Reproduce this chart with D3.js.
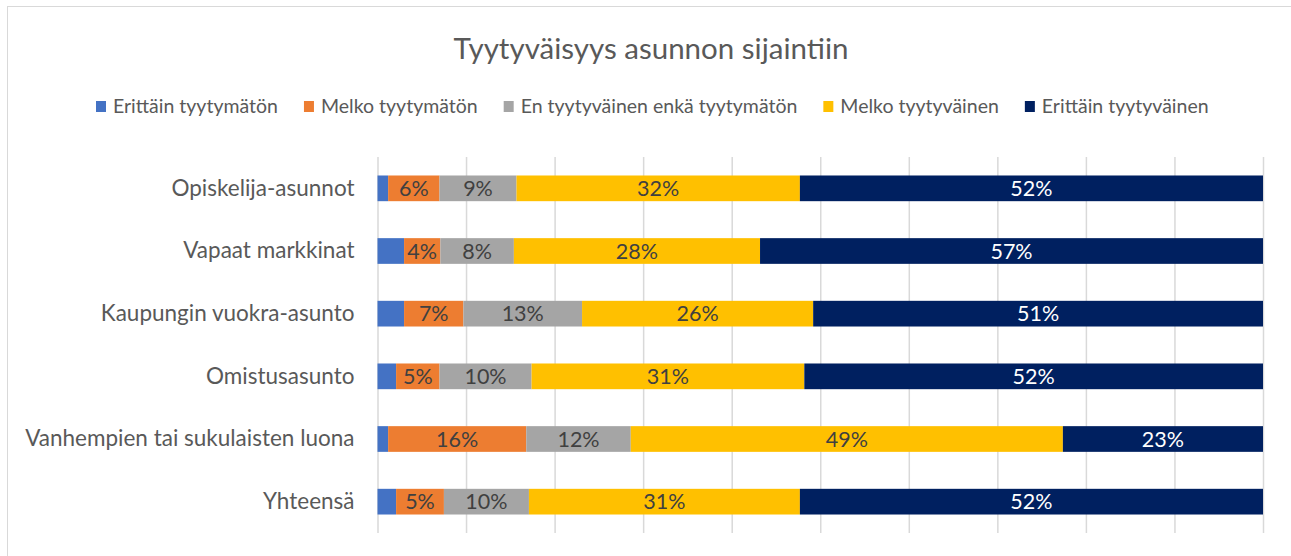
<!DOCTYPE html>
<html>
<head>
<meta charset="utf-8">
<script src="https://cdn.jsdelivr.net/npm/d3@7"></script>
<style>
  body { margin: 0; background: #fff; }
  svg { display: block; font-family: "Lato", sans-serif; }
</style>
</head>
<body>
<svg id="chart"></svg>
<script>
// categories, top to bottom
const categories = [
  "Opiskelija-asunnot",
  "Vapaat markkinat",
  "Kaupungin vuokra-asunto",
  "Omistusasunto",
  "Vanhempien tai sukulaisten luona",
  "Yhteensä"
];

const seriesNames = [
  "Erittäin tyytymätön",
  "Melko tyytymätön",
  "En tyytyväinen enkä tyytymätön",
  "Melko tyytyväinen",
  "Erittäin tyytyväinen"
];

// shares in percent, one value per category
const erittainTyytymaton = [1.2, 3.0, 3.0, 2.1, 1.2, 2.1];
const melkoTyytymaton    = [5.8, 4.1, 6.7, 4.9, 15.6, 5.4];
const neutraali          = [8.7, 8.3, 13.4, 10.4, 11.8, 9.6];
const melkoTyytyvainen   = [32.0, 27.8, 26.1, 30.8, 48.8, 30.6];
const erittainTyytyvainen = [52.3, 56.8, 50.8, 51.8, 22.6, 52.3];

const gridTicks = [0, 0.1, 0.2, 0.3, 0.4, 0.5, 0.6, 0.7, 0.8, 0.9, 1];

const colors = ["#4472C4", "#ED7D31", "#A5A5A5", "#FFC000", "#002060"];

class StackedBars {

  constructor(_config) {
    this.config = {
      parentElement: _config.parentElement,
      containerWidth: _config.containerWidth || 1291,
      containerHeight: _config.containerHeight || 556,
      margin: _config.margin || { top: 157, right: 28, bottom: 23, left: 377.5 }
    };
    this.initVis();
  }

  initVis() {
    let vis = this;

    vis.svg = d3.select(vis.config.parentElement)
        .attr("width", vis.config.containerWidth)
        .attr("height", vis.config.containerHeight);

    // chart frame (right and bottom edge fall outside the picture)
    vis.svg.append("rect")
        .attr("x", 7.5).attr("y", 6.5)
        .attr("width", 1300).attr("height", 600)
        .attr("fill", "none")
        .attr("stroke", "#d9d9d9")
        .attr("stroke-width", 1);

    vis.width = vis.config.containerWidth - vis.config.margin.left - vis.config.margin.right;
    vis.height = vis.config.containerHeight - vis.config.margin.top - vis.config.margin.bottom;

    vis.chart = vis.svg.append("g")
        .attr("transform", `translate(${vis.config.margin.left},${vis.config.margin.top})`);

    vis.gridG = vis.chart.append("g")
        .attr("transform", `translate(0,${vis.height})`);
    vis.yAxisG = vis.chart.append("g");
    vis.barsG = vis.chart.append("g");
    vis.labelsG = vis.chart.append("g");

    vis.svg.append("text")
        .attr("x", 651)
        .attr("y", 59)
        .attr("text-anchor", "middle")
        .attr("fill", "#595959")
        .style("font-size", "29.5px")
        .text("Tyytyväisyys asunnon sijaintiin");

    vis.legendG = vis.svg.append("g");
  }

  update() {
    let vis = this;

    let all = [erittainTyytymaton, melkoTyytymaton, neutraali, melkoTyytyvainen, erittainTyytyvainen];
    vis.rows = categories.map((c, i) => {
      let row = { category: c };
      seriesNames.forEach((s, j) => { row[s] = all[j][i] / 100; });
      return row;
    });

    vis.stacked = d3.stack().keys(seriesNames)(vis.rows);

    vis.xScale = d3.scaleLinear()
      .domain([0, 1])
      .range([0, vis.width]);

    vis.yScale = d3.scaleBand()
      .domain(categories)
      .range([0, vis.height])
      .paddingInner(0.59)
      .paddingOuter(0.295);

    vis.colorScale = d3.scaleOrdinal()
      .domain(seriesNames)
      .range(colors);

    vis.render();
  }

  render() {
    let vis = this;

    vis.gridG.call(d3.axisBottom(vis.xScale)
        .tickValues(gridTicks)
        .tickSize(-vis.height)
        .tickFormat(""));
    vis.gridG.select(".domain").remove();
    vis.gridG.selectAll("line")
        .attr("stroke", "#d9d9d9")
        .attr("stroke-width", 1.5);

    vis.yAxisG.call(d3.axisLeft(vis.yScale).tickSize(0).tickPadding(23));
    vis.yAxisG.select(".domain").remove();
    vis.yAxisG.selectAll("text")
        .style("font-size", "22.5px")
        .style("font-family", "Lato, sans-serif")
        .attr("fill", "#595959");

    let layer = vis.barsG.selectAll("g.layer")
        .data(vis.stacked)
      .join("g")
        .attr("class", "layer")
        .attr("fill", d => vis.colorScale(d.key));

    layer.selectAll("rect")
        .data(d => d)
      .join("rect")
        .attr("x", d => vis.xScale(d[0]))
        .attr("y", d => vis.yScale(d.data.category))
        .attr("width", d => vis.xScale(d[1]) - vis.xScale(d[0]))
        .attr("height", vis.yScale.bandwidth());

    // data labels, first series has none
    let fmt = d3.format(".0%");
    let labelLayer = vis.labelsG.selectAll("g.lab")
        .data(vis.stacked.slice(1))
      .join("g")
        .attr("class", "lab")
        .attr("fill", d => d.key === "Erittäin tyytyväinen" ? "#ffffff" : "#404040");

    labelLayer.selectAll("text")
        .data(d => d)
      .join("text")
        .attr("x", d => (vis.xScale(d[0]) + vis.xScale(d[1])) / 2)
        .attr("y", d => vis.yScale(d.data.category) + vis.yScale.bandwidth() / 2)
        .attr("dy", "0.35em")
        .attr("text-anchor", "middle")
        .style("font-size", "21.5px")
        .text(d => fmt(d[1] - d[0]));

    // legend
    let x = 96;
    seriesNames.forEach((s, i) => {
      let item = vis.legendG.append("g");
      item.append("rect")
          .attr("x", x).attr("y", 101)
          .attr("width", 10).attr("height", 11)
          .attr("fill", colors[i]);
      let t = item.append("text")
          .attr("x", x + 17).attr("y", 113)
          .attr("fill", "#595959")
          .style("font-size", "19.5px")
          .text(s);
      x += 17 + t.node().getComputedTextLength() + 26;
    });
  }
}

let chart = new StackedBars({ parentElement: "#chart" });
chart.update();
</script>
</body>
</html>
